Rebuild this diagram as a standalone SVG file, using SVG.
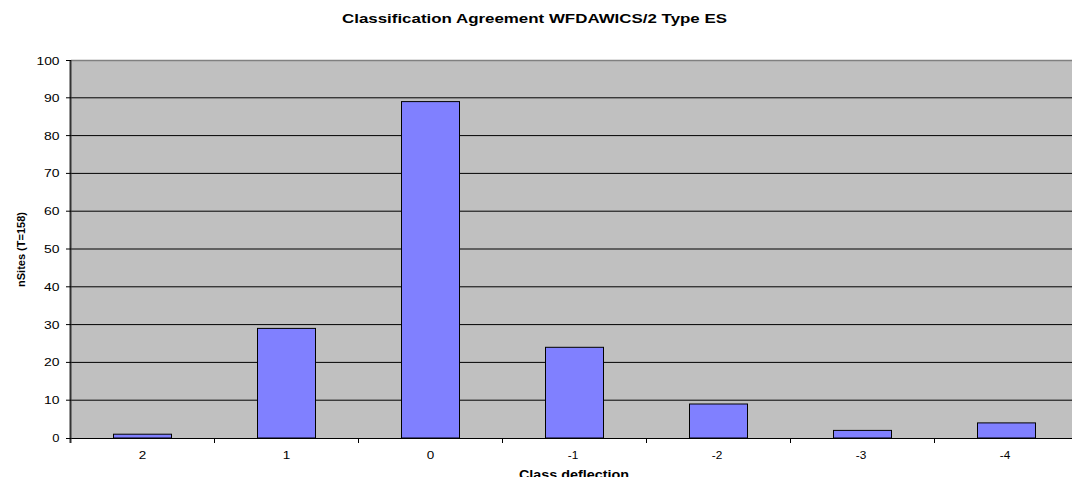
<svg xmlns="http://www.w3.org/2000/svg" width="1072" height="477" viewBox="0 0 1072 477">
<style>
.t{font-family:"Liberation Sans",Arial,sans-serif;fill:#000}
.yl{font-size:11px;text-anchor:end}
.xl{font-size:11px;text-anchor:middle}
.b{font-weight:bold}
.grid{stroke:#000;stroke-width:1}
.bar{fill:#8080FF;stroke:#000;stroke-width:1}
.tick{stroke:#000;stroke-width:1}
</style>
<rect width="1072" height="477" fill="#fff"/>
<text class="t b" x="534.5" y="22.5" font-size="13" text-anchor="middle" textLength="385" lengthAdjust="spacingAndGlyphs">Classification Agreement WFDAWICS/2 Type ES</text>
<g id="plot">
<rect x="71" y="60" width="1008" height="378" fill="#C0C0C0"/>
<line x1="71" y1="60.5" x2="1072" y2="60.5" stroke="#808080" stroke-width="1.5"/>
<g class="grid">
<line x1="71" y1="97.8" x2="1072" y2="97.8"/>
<line x1="71" y1="135.6" x2="1072" y2="135.6"/>
<line x1="71" y1="173.4" x2="1072" y2="173.4"/>
<line x1="71" y1="211.2" x2="1072" y2="211.2"/>
<line x1="71" y1="249" x2="1072" y2="249"/>
<line x1="71" y1="286.8" x2="1072" y2="286.8"/>
<line x1="71" y1="324.6" x2="1072" y2="324.6"/>
<line x1="71" y1="362.4" x2="1072" y2="362.4"/>
<line x1="71" y1="400.2" x2="1072" y2="400.2"/>
</g>
</g>
<g id="bars">
<rect id="bar-2" class="bar" x="113.5" y="434.2" width="58" height="3.8"/>
<rect id="bar-1" class="bar" x="257.5" y="328.4" width="58" height="109.6"/>
<rect id="bar-0" class="bar" x="401.5" y="101.6" width="58" height="336.4"/>
<rect id="bar-m1" class="bar" x="545.5" y="347.3" width="58" height="90.7"/>
<rect id="bar-m2" class="bar" x="689.5" y="404" width="58" height="34"/>
<rect id="bar-m3" class="bar" x="833.5" y="430.4" width="58" height="7.6"/>
<rect id="bar-m4" class="bar" x="977.5" y="422.9" width="58" height="15.1"/>
</g>
<g id="axes">
<line x1="71" y1="438.5" x2="1072" y2="438.5" stroke="#000" stroke-width="1.2"/>
<line x1="70.5" y1="60" x2="70.5" y2="443" stroke="#333" stroke-width="2"/>
<g class="tick">
<line x1="66" y1="60.5" x2="71" y2="60.5"/>
<line x1="66" y1="97.8" x2="71" y2="97.8"/>
<line x1="66" y1="135.6" x2="71" y2="135.6"/>
<line x1="66" y1="173.4" x2="71" y2="173.4"/>
<line x1="66" y1="211.2" x2="71" y2="211.2"/>
<line x1="66" y1="249" x2="71" y2="249"/>
<line x1="66" y1="286.8" x2="71" y2="286.8"/>
<line x1="66" y1="324.6" x2="71" y2="324.6"/>
<line x1="66" y1="362.4" x2="71" y2="362.4"/>
<line x1="66" y1="400.2" x2="71" y2="400.2"/>
<line x1="66" y1="438.5" x2="71" y2="438.5"/>
<line x1="214.5" y1="438" x2="214.5" y2="443"/>
<line x1="358.5" y1="438" x2="358.5" y2="443"/>
<line x1="502.5" y1="438" x2="502.5" y2="443"/>
<line x1="646.5" y1="438" x2="646.5" y2="443"/>
<line x1="790.5" y1="438" x2="790.5" y2="443"/>
<line x1="934.5" y1="438" x2="934.5" y2="443"/>
</g>
<g class="t yl">
<text x="59.5" y="64.5" textLength="23" lengthAdjust="spacingAndGlyphs">100</text>
<text x="59.5" y="101.8" textLength="15.5" lengthAdjust="spacingAndGlyphs">90</text>
<text x="59.5" y="139.6" textLength="15.5" lengthAdjust="spacingAndGlyphs">80</text>
<text x="59.5" y="177.4" textLength="15.5" lengthAdjust="spacingAndGlyphs">70</text>
<text x="59.5" y="215.2" textLength="15.5" lengthAdjust="spacingAndGlyphs">60</text>
<text x="59.5" y="253" textLength="15.5" lengthAdjust="spacingAndGlyphs">50</text>
<text x="59.5" y="290.8" textLength="15.5" lengthAdjust="spacingAndGlyphs">40</text>
<text x="59.5" y="328.6" textLength="15.5" lengthAdjust="spacingAndGlyphs">30</text>
<text x="59.5" y="366.4" textLength="15.5" lengthAdjust="spacingAndGlyphs">20</text>
<text x="59.5" y="404.2" textLength="15.5" lengthAdjust="spacingAndGlyphs">10</text>
<text x="59.5" y="442.3" textLength="7.2" lengthAdjust="spacingAndGlyphs">0</text>
</g>
<g class="t xl">
<text x="142.5" y="458.5" textLength="7.5" lengthAdjust="spacingAndGlyphs">2</text>
<text x="286.5" y="458.5" textLength="7.5" lengthAdjust="spacingAndGlyphs">1</text>
<text x="430.5" y="458.5" textLength="7.5" lengthAdjust="spacingAndGlyphs">0</text>
<text x="573" y="458.5" textLength="10.5" lengthAdjust="spacingAndGlyphs">-1</text>
<text x="717" y="458.5" textLength="10.5" lengthAdjust="spacingAndGlyphs">-2</text>
<text x="861" y="458.5" textLength="10.5" lengthAdjust="spacingAndGlyphs">-3</text>
<text x="1005" y="458.5" textLength="10.5" lengthAdjust="spacingAndGlyphs">-4</text>
</g>
<text class="t b" x="574" y="478.5" font-size="12" text-anchor="middle" textLength="110" lengthAdjust="spacingAndGlyphs">Class deflection</text>
<text class="t b" transform="translate(25,249.5) rotate(-90)" font-size="11" text-anchor="middle" textLength="75" lengthAdjust="spacingAndGlyphs">nSites (T=158)</text>
</g>
</svg>
